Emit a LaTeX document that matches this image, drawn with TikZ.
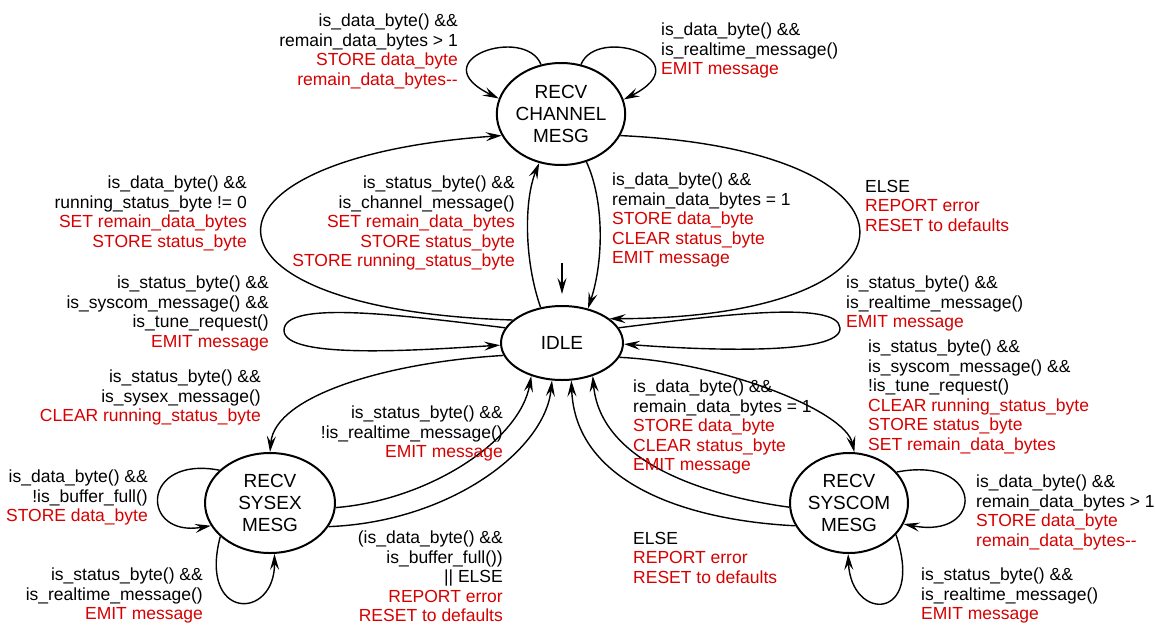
\documentclass[tikz,border=0pt]{standalone}
\usepackage{fontspec}
\setmainfont{Liberation Sans}
\usetikzlibrary{arrows.meta,shapes.geometric}
\definecolor{lblred}{RGB}{215,0,0}
\newcommand{\rt}[1]{\textcolor{lblred}{#1}}
\begin{document}
\begin{tikzpicture}[x=1pt,y=-1pt,
  state/.style={ellipse,draw,line width=2pt,inner sep=0pt,align=center,font=\fontsize{19}{22}\selectfont},
  tr/.style={line width=1.4pt,-{Stealth[length=16pt,width=9pt,inset=6pt]}},
  lblL/.style={anchor=north west,inner sep=0pt,align=left,font=\fontsize{17.5}{19.5}\selectfont},
  lblR/.style={anchor=north east,inner sep=0pt,align=right,font=\fontsize{17.5}{19.5}\selectfont}]
\useasboundingbox (0,0) rectangle (1155,624);
\fill[white] (0,0) rectangle (1155,624);

% states
\node[state,minimum width=128pt,minimum height=102pt] (CH) at (561,114) {RECV\\CHANNEL\\MESG};
\node[state,minimum width=122pt,minimum height=74pt] (IDLE) at (562,343) {IDLE};
\node[state,minimum width=130pt,minimum height=100pt] (SX) at (270,503) {RECV\\SYSEX\\MESG};
\node[state,minimum width=118pt,minimum height=100pt] (SC) at (849,503) {RECV\\SYSCOM\\MESG};

% start arrow
\coordinate (s0) at (562,263);
\draw[tr,shorten >=11pt] (s0) -- (IDLE);

% CH self loops
\draw[tr] (CH.112) .. controls (525,25) and (420,60) .. (CH.166);
\draw[tr] (CH.68) .. controls (597,25) and (702,60) .. (CH.13);
% IDLE <-> CH
\draw[tr] (IDLE.155) .. controls (180,310) and (180,158) .. (CH.200);
\draw[tr] (IDLE.121) .. controls (524,260) and (524,200) .. (CH.246);
\draw[tr] (CH.298) .. controls (604,200) and (604,260) .. (IDLE.53);
\draw[tr] (CH.340) .. controls (940,150) and (940,318) .. (IDLE.27);
% IDLE self loops
\draw[tr] (IDLE.165) .. controls (400,315) and (285,300) .. (284,330) .. controls (283,360) and (420,350) .. (IDLE.182);
\draw[tr] (IDLE.15) .. controls (720,315) and (838,300) .. (840,328) .. controls (842,356) and (700,350) .. (IDLE.359);
% IDLE <-> SX
\draw[tr] (IDLE.192) .. controls (390,362) and (275,395) .. (SX.90);
\draw[tr] (SX.356) .. controls (430,500) and (520,440) .. (IDLE.227);
\draw[tr] (SX.338) .. controls (450,522) and (545,450) .. (IDLE.255);
% IDLE <-> SC
\draw[tr] (IDLE.346) .. controls (720,362) and (845,410) .. (SC.84);
\draw[tr] (SC.184) .. controls (700,495) and (600,460) .. (IDLE.313);
\draw[tr] (SC.203) .. controls (680,520) and (575,480) .. (IDLE.284);
% SX self loops
\draw[tr] (SX.147) .. controls (140,455) and (140,538) .. (SX.201);
\draw[tr] (SX.214) .. controls (198,621) and (275,621) .. (SX.275);
% SC self loops
\draw[tr] (SC.33) .. controls (985,455) and (985,540) .. (SC.339);
\draw[tr] (SC.326) .. controls (925,622) and (851,622) .. (SC.269);

% labels
\node[lblR] (l1) at (458,14) {is\_data\_byte() \&\&\\remain\_data\_bytes > 1\\\rt{STORE data\_byte}\\\rt{remain\_data\_bytes-{}-}};
\node[lblL] (l2) at (661,23) {is\_data\_byte() \&\&\\is\_realtime\_message()\\\rt{EMIT message}};
\node[lblR] (l3) at (247,176) {is\_data\_byte() \&\&\\running\_status\_byte != 0\\\rt{SET remain\_data\_bytes}\\\rt{STORE status\_byte}};
\node[lblR] (l4) at (515,176) {is\_status\_byte() \&\&\\is\_channel\_message()\\\rt{SET remain\_data\_bytes}\\\rt{STORE status\_byte}\\\rt{STORE running\_status\_byte}};
\node[lblL] (l5) at (612,173) {is\_data\_byte() \&\&\\remain\_data\_bytes = 1\\\rt{STORE data\_byte}\\\rt{CLEAR status\_byte}\\\rt{EMIT message}};
\node[lblL] (l6) at (865,180) {ELSE\\\rt{REPORT error}\\\rt{RESET to defaults}};
\node[lblR] (l7) at (269,276) {is\_status\_byte() \&\&\\is\_syscom\_message() \&\&\\is\_tune\_request()\\\rt{EMIT message}};
\node[lblL] (l8) at (846,276) {is\_status\_byte() \&\&\\is\_realtime\_message()\\\rt{EMIT message}};
\node[lblR] (l9) at (261,370) {is\_status\_byte() \&\&\\is\_sysex\_message()\\\rt{CLEAR running\_status\_byte}};
\node[lblR] (l10) at (503,406) {is\_status\_byte() \&\&\\!is\_realtime\_message()\\\rt{EMIT message}};
\node[lblR] (l11) at (148,470) {is\_data\_byte() \&\&\\!is\_buffer\_full()\\\rt{STORE data\_byte}};
\node[lblR] (l12) at (203,568) {is\_status\_byte() \&\&\\is\_realtime\_message()\\\rt{EMIT message}};
\node[lblR] (l13) at (503,531) {(is\_data\_byte() \&\&\\is\_buffer\_full())\\|| ELSE\\\rt{REPORT error}\\\rt{RESET to defaults}};
\node[lblL] (l14) at (868,340) {is\_status\_byte() \&\&\\is\_syscom\_message() \&\&\\!is\_tune\_request()\\\rt{CLEAR running\_status\_byte}\\\rt{STORE status\_byte}\\\rt{SET remain\_data\_bytes}};
\node[lblL] (l15) at (633,380) {is\_data\_byte() \&\&\\remain\_data\_bytes = 1\\\rt{STORE data\_byte}\\\rt{CLEAR status\_byte}\\\rt{EMIT message}};
\node[lblL] (l16) at (633,532) {ELSE\\\rt{REPORT error}\\\rt{RESET to defaults}};
\node[lblL] (l17) at (976,475) {is\_data\_byte() \&\&\\remain\_data\_bytes > 1\\\rt{STORE data\_byte}\\\rt{remain\_data\_bytes-{}-}};
\node[lblL] (l18) at (921,568) {is\_status\_byte() \&\&\\is\_realtime\_message()\\\rt{EMIT message}};
\end{tikzpicture}
\end{document}
